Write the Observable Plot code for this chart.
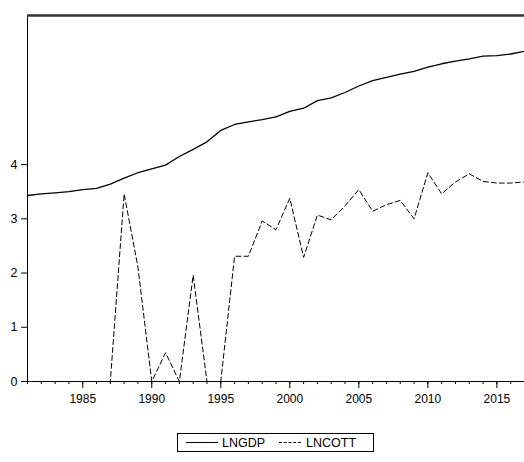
<!DOCTYPE html>
<html>
<head>
<meta charset="utf-8">
<script src="https://cdn.jsdelivr.net/npm/d3@7"></script>
<script src="https://cdn.jsdelivr.net/npm/@observablehq/plot@0.6"></script>
<style>
  html, body { margin: 0; padding: 0; background: #fff; }
  body { width: 524px; height: 462px; overflow: hidden; position: relative; font-family: "Liberation Sans", Arial, sans-serif; }
  #legend { position: absolute; left: 177px; top: 433px; width: 197px; height: 19px; border: 1px solid #000; box-sizing: border-box;
            font-size: 12.5px; display: flex; align-items: center; }
  .sw { display: inline-block; width: 32px; height: 0; border-top: 1px solid #000; margin-left: 8px; margin-right: 4px; }
  .sw.dash { border-top: 1px dashed #000; width: 22px; margin-left: 14px; margin-right: 5px; }
</style>
</head>
<body>
<div id="chart"></div>
<div id="legend"><span class="sw"></span><span>LNGDP</span><span class="sw dash"></span><span>LNCOTT</span></div>
<script>
const years = d3.range(1981, 2018);
const lngdp = [3.43, 3.46, 3.48, 3.50, 3.54, 3.56, 3.64, 3.75, 3.85, 3.92,
               3.99, 4.15, 4.28, 4.42, 4.63, 4.74, 4.79, 4.83, 4.88, 4.98,
               5.04, 5.18, 5.23, 5.33, 5.45, 5.55, 5.61, 5.67, 5.72, 5.80,
               5.86, 5.91, 5.95, 6.00, 6.01, 6.04, 6.09];
const lncott = [0, 0, 0, 0, 0, 0, 0, 3.46, 2.11, 0,
                0.53, 0, 1.96, 0, 0, 2.31, 2.31, 2.96, 2.80, 3.38,
                2.29, 3.07, 2.98, 3.24, 3.54, 3.14, 3.26, 3.34, 3.00, 3.85,
                3.46, 3.68, 3.83, 3.69, 3.66, 3.66, 3.68];
const yTicks = [0, 1, 2, 3, 4];
const xTicks = [1985, 1990, 1995, 2000, 2005, 2010, 2015];
const xMinor = years;

const gdpData = years.map((y, i) => ({year: y, v: lngdp[i]}));
const cottData = years.map((y, i) => ({year: y, v: lncott[i]}));
const yMax = 6.75;

const chart = Plot.plot({
  width: 524,
  height: 415,
  marginTop: 15,
  marginBottom: 34,
  marginLeft: 27,
  marginRight: 0,
  style: {fontFamily: "'Liberation Sans', Arial, sans-serif", fontSize: "12px", color: "#000", background: "#fff"},
  x: {domain: [1981, 2017], label: null},
  y: {domain: [0, yMax], label: null},
  marks: [
    Plot.axisX(xMinor, {tickSize: 3, tickFormat: () => "", label: null}),
    Plot.axisX(xTicks, {tickSize: 7, tickPadding: 6, tickFormat: d => String(d), fontSize: 12, label: null}),
    Plot.axisY(yTicks, {tickSize: 6, tickPadding: 4, tickFormat: d => String(d), fontSize: 12.5, label: null}),
    Plot.ruleX([1981], {stroke: "#000", strokeWidth: 1}),
    Plot.ruleY([0], {stroke: "#000", strokeWidth: 1}),
    Plot.ruleY([yMax], {stroke: "#333", strokeWidth: 2.5}),
    Plot.line(cottData, {x: "year", y: "v", stroke: "#000", strokeWidth: 1, strokeDasharray: "5,3"}),
    Plot.line(gdpData, {x: "year", y: "v", stroke: "#000", strokeWidth: 1.3})
  ]
});
document.getElementById("chart").appendChild(chart);
</script>
</body>
</html>
